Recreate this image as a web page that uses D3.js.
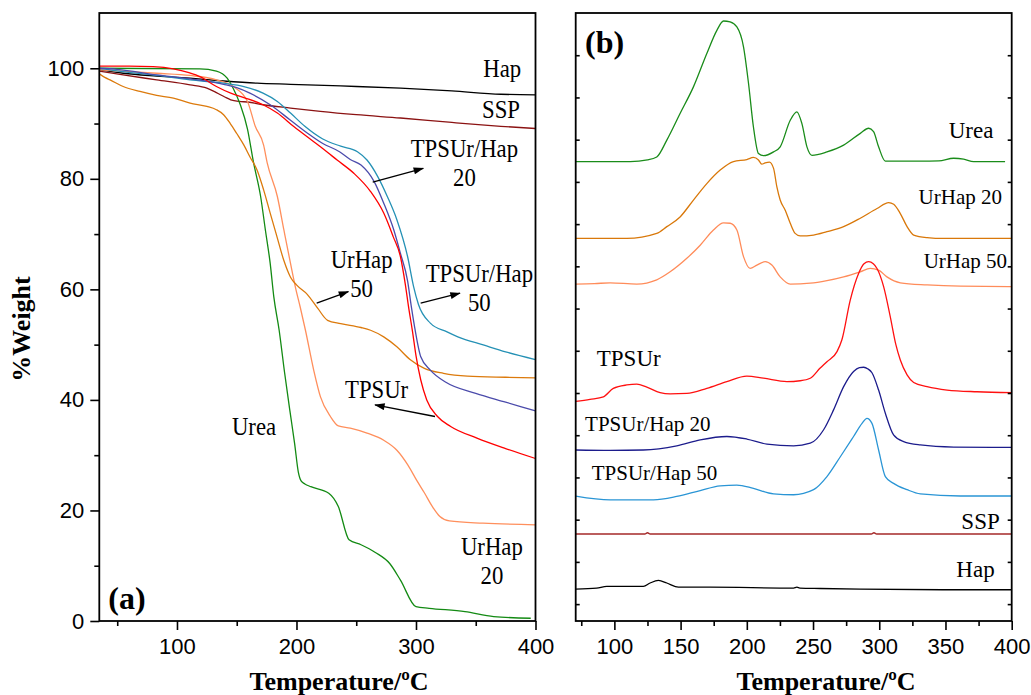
<!DOCTYPE html>
<html>
<head>
<meta charset="utf-8">
<script src="https://cdn.jsdelivr.net/npm/d3@7"></script>
<style>
  body { margin: 0; background: #fff; }
  svg { display: block; }
</style>
</head>
<body>
<svg id="fig" width="1031" height="695"></svg>
<script>
// ---------- (a) TGA: temperature (°C) vs. %weight ----------
const tgaHap = [[35,99.7],[55,99.1],[83,98.6],[111,98.2],[139,97.7],[167,97.3],[195,97.1],[237,96.8],[287,96.4],[330,95.9],[371,95.3],[400,95.2]];
const tgaSSP = [[35,99.5],[55,98.8],[83,97.9],[111,97.0],[125,96.4],[133,95.6],[140,94.8],[145,94.3],[152,94.0],[159,93.9],[172,93.4],[195,92.8],[220,92.2],[250,91.6],[287,91.0],[330,90.2],[371,89.5],[400,89.1]];
const tgaTPSUrHap20 = [[35,100.0],[50,99.8],[83,98.8],[111,98.1],[139,97.1],[150,96.5],[161,95.5],[178,93.4],[195,90.6],[209,88.3],[222,86.4],[236,84.9],[245,83.5],[254,82.5],[265,79.5],[273,75.6],[281.5,70.7],[287,66.5],[293,61.5],[296,57],[299,53],[304,47.8],[312,45.4],[325,43.2],[350,41.2],[375,39.6],[400,38.0]];
const tgaTPSUrHap50 = [[35,100.0],[55,99.4],[83,98.7],[111,97.9],[139,97.3],[156,96.7],[172,95.5],[184,94.0],[195,91.9],[207,89.5],[222,87.2],[237,85.9],[251,84.9],[259,83.4],[268,80.4],[276,76.8],[284,72.6],[293,65.9],[298,60.5],[302,57.3],[312,53.9],[326,52.3],[335,51.4],[357,49.9],[375,48.7],[400,47.3]];
const tgaTPSUr = [[35,100.4],[60,100.4],[80,100.3],[97,99.9],[110,99.2],[120,98.4],[133,96.7],[145,95.5],[156,94.7],[172,93.4],[184,91.9],[198,89.4],[212,87.1],[223,85.3],[234,83.4],[248,81.0],[262,77.7],[273,73.8],[281,69.5],[287,65.9],[291,61.0],[294,56.5],[297,52.5],[300,48],[304,43.6],[309,40.0],[318,37.0],[329,35.2],[351,33.1],[375,31.2],[400,29.4]];
const tgaUrHap50 = [[35,99.0],[40,98.3],[44,97.9],[55,96.7],[69,95.8],[83,95.1],[97,94.6],[111,93.7],[125,93.1],[133,92.5],[139,91.6],[144.6,90.0],[150,88.2],[156,86.1],[161,84.0],[167,81.6],[172.5,78.0],[178,73.8],[183.7,69.5],[189.3,65.3],[195,62.2],[200,60.8],[209,59.1],[218,56.5],[226,54.4],[237,53.8],[254,53.1],[262,52.6],[273,51.4],[284,49.6],[295,47.3],[307,45.7],[323,44.8],[343,44.3],[375,44.1],[400,44.0]];
const tgaUrHap20 = [[35,99.7],[83,99.1],[111,98.7],[133,97.9],[147,96.7],[159,94.0],[165.5,89.5],[172.5,86.1],[175.5,82.9],[184,76.8],[189.5,70.7],[195,64.7],[199.5,60],[203,56.9],[207.5,52.6],[214.4,45.4],[220,40.6],[228.4,37.0],[235,35.3],[245,34.9],[259,34.0],[273,32.7],[284,30.9],[293,28.3],[301,25.3],[307,23.2],[314,20.6],[320,18.9],[328,18.1],[356,17.7],[400,17.4]];
const tgaUrea = [[35,100.0],[119,99.9],[133,99.5],[142,98.2],[147,96.4],[153,93.4],[159,89.0],[164,83.0],[170,76.8],[174,70.7],[178,64.7],[181,58.7],[185.5,52.6],[190,45],[194.5,38],[198.5,32],[201.5,27],[204,25.3],[207,24.8],[212,24.3],[227,23.1],[235,20.7],[244,14.7],[254,13.8],[266,12.4],[278,10.4],[287,7.4],[300,2.6],[311,2.3],[341,1.7],[365,0.8],[396,0.5]];

// ---------- (b) DTG: temperature (°C) vs. offset derivative (arb. units) ----------
const dtgUrea = [[70.8,10.48],[112,10.48],[125,10.52],[132,10.59],[139.6,10.99],[149.6,11.62],[159.7,12.25],[169.8,13.04],[177.4,13.59],[182.4,13.81],[187.4,13.79],[192.5,13.67],[197.5,13.2],[201.3,12.33],[205,11.3],[208.8,10.67],[212.6,10.62],[220.2,10.71],[225.2,10.83],[232.8,11.46],[237.8,11.66],[241.6,11.38],[245.4,10.83],[249.2,10.63],[260.5,10.71],[273.1,10.87],[285.7,11.15],[292,11.27],[295.7,11.19],[299.5,10.83],[304.6,10.49],[331,10.49],[345,10.50],[356.2,10.56],[363.7,10.54],[371.3,10.48],[395,10.48]];
const dtgUrHap20 = [[70.8,8.66],[109.4,8.66],[132,8.78],[139.6,8.94],[149.6,9.17],[159.7,9.57],[169.8,9.96],[179.9,10.28],[189.9,10.48],[200,10.53],[205,10.58],[208.8,10.52],[211.3,10.42],[213.8,10.45],[217.1,10.47],[220.2,10.32],[222.7,9.88],[225.2,9.57],[229,9.33],[232.8,9.02],[236.5,8.78],[240.3,8.72],[250.4,8.74],[260.5,8.82],[273.1,8.94],[285.7,9.14],[298.3,9.37],[307.1,9.51],[310.9,9.47],[315.9,9.25],[321,8.94],[326,8.74],[336.1,8.68],[348.7,8.66],[400,8.66]];
const dtgUrHap50 = [[70.8,7.58],[85,7.59],[96.8,7.61],[116.9,7.58],[132,7.68],[142.1,7.87],[154.7,8.19],[164.8,8.50],[174.8,8.86],[182.4,9.03],[187.4,9.02],[192.5,8.86],[197.5,8.23],[202.5,7.95],[207.6,8.03],[213.9,8.11],[218.9,8.03],[225.2,7.75],[232.8,7.58],[247.9,7.60],[260.5,7.66],[273.1,7.75],[285.7,7.87],[293.2,7.95],[299.5,7.91],[305.8,7.75],[315.9,7.61],[336.1,7.56],[361.3,7.53],[400,7.52]];
const dtgTPSUr = [[70.8,4.80],[81.6,4.85],[91.7,4.91],[99.2,5.11],[109.4,5.19],[116.9,5.21],[124.5,5.14],[134.5,5.01],[142.1,4.98],[154.7,4.99],[169.8,5.11],[184.9,5.27],[200,5.40],[212.6,5.35],[230.3,5.27],[240.3,5.29],[247.9,5.35],[255.4,5.59],[260.5,5.74],[268.1,5.98],[271.8,6.26],[278.1,7.20],[284.4,7.83],[288.5,8.06],[292,8.11],[295.5,8.06],[298.3,7.95],[303.3,7.52],[308.3,6.81],[312.5,6.15],[315.9,5.78],[321,5.43],[326,5.25],[336.1,5.15],[351.2,5.07],[373.9,5.03],[400,5.01]];
const dtgTPSUrHap20 = [[70.8,3.65],[96.8,3.64],[121.9,3.65],[147.1,3.75],[164.8,3.89],[184.9,3.97],[200,3.91],[215.2,3.79],[235.3,3.75],[247.9,3.81],[258,4.13],[265.5,4.60],[273.1,5.15],[280.6,5.51],[285,5.60],[288.2,5.61],[291.5,5.57],[294.5,5.48],[299.5,5.07],[304.6,4.52],[310.8,4.01],[318.4,3.85],[331,3.77],[356.2,3.72],[400,3.71]];
const dtgTPSUrHap50 = [[70.8,2.56],[96.8,2.47],[129.5,2.47],[147.1,2.55],[164.8,2.69],[179.9,2.80],[192.5,2.82],[205,2.74],[220.2,2.61],[235.3,2.59],[250.4,2.71],[260.5,3.02],[270.6,3.49],[280.6,3.97],[287,4.28],[290.7,4.40],[294.5,4.28],[299.5,3.65],[304.6,3.02],[310.8,2.86],[321,2.71],[331,2.61],[361.2,2.56],[400,2.56]];
const dtgSSP = [[70.8,1.66],[123,1.66],[125,1.69],[127,1.66],[294,1.66],[296,1.69],[298,1.66],[400,1.66]];
const dtgHap = [[70.8,0.355],[86.6,0.38],[94.3,0.42],[121.9,0.42],[127,0.50],[133.3,0.56],[139.6,0.50],[148.4,0.40],[172.3,0.40],[235.3,0.38],[237.8,0.40],[240,0.38],[255.4,0.37],[285.7,0.355],[348.7,0.34],[400,0.34]];

// ---------- ticks ----------
const xMajorA = [100, 200, 300, 400];
const xMinorA = [50, 150, 250, 350];
const yMajorA = [0, 20, 40, 60, 80, 100];
const yMinorA = [10, 30, 50, 70, 90];
const xMajorB = [100, 150, 200, 250, 300, 350, 400];
const xMinorB = [75, 125, 175, 225, 275, 325, 375];
const yTicksB = d3.range(0, 14);

// ---------- curve labels and arrows ----------
const labelsA = [
  { lines: ["Hap"], t: 388, v: 98.5, anchor: "end" },
  { lines: ["SSP"], t: 387, v: 91.0, anchor: "end" },
  { lines: ["TPSUr/Hap", "20"], t: 340.5, v: 84.0, anchor: "middle" },
  { lines: ["UrHap", "50"], t: 254.5, v: 63.8, anchor: "middle" },
  { lines: ["TPSUr/Hap", "50"], t: 353, v: 61.4, anchor: "middle" },
  { lines: ["TPSUr"], t: 240.6, v: 40.3, anchor: "start" },
  { lines: ["Urea"], t: 146, v: 33.6, anchor: "start" },
  { lines: ["UrHap", "20"], t: 363.5, v: 11.9, anchor: "middle" }
];
const arrowsA = [
  { from: [263.8, 79.4], to: [306.1, 81.9] },
  { from: [216.9, 57.5], to: [243.4, 59.6] },
  { from: [303.9, 57.5], to: [336.8, 59.3] },
  { from: [315.9, 37.0], to: [265.7, 39.1] }
];
const labelsB = [
  { text: "Urea", t: 352.4, v: 11.03, size: 23 },
  { text: "UrHap 20", t: 329.7, v: 9.47, size: 21 },
  { text: "UrHap 50", t: 333.5, v: 7.95, size: 21 },
  { text: "TPSUr", t: 86.7, v: 5.64, size: 23 },
  { text: "TPSUr/Hap 20", t: 77.9, v: 4.09, size: 21 },
  { text: "TPSUr/Hap 50", t: 82.9, v: 2.94, size: 21 },
  { text: "SSP", t: 362, v: 1.78, size: 23 },
  { text: "Hap", t: 358.2, v: 0.65, size: 23 }
];

const seriesA = [
  { data: tgaHap, color: "#000000" },
  { data: tgaSSP, color: "#8b1212" },
  { data: tgaUrea, color: "#138a13" },
  { data: tgaUrHap20, color: "#ff8f5c" },
  { data: tgaUrHap50, color: "#dc7a0c" },
  { data: tgaTPSUrHap50, color: "#2591b5" },
  { data: tgaTPSUrHap20, color: "#4b4bab" },
  { data: tgaTPSUr, color: "#ff0000" }
];
const seriesB = [
  { data: dtgUrea, color: "#1a8c1a" },
  { data: dtgUrHap20, color: "#d9780a" },
  { data: dtgUrHap50, color: "#ff8c5a" },
  { data: dtgTPSUr, color: "#ff1010" },
  { data: dtgTPSUrHap20, color: "#1c1c8c" },
  { data: dtgTPSUrHap50, color: "#2a95d5" },
  { data: dtgSSP, color: "#a52a2a" },
  { data: dtgHap, color: "#000000" }
];

// ---------- layout ----------
const SERIF = '"Liberation Serif", "Times New Roman", Times, serif';
const SANS = '"Liberation Sans", Arial, Helvetica, sans-serif';
const TOP = 13, BOTTOM = 621;

const xA = d3.scaleLinear().domain([35, 400]).range([99.3, 535.5]);
const yA = d3.scaleLinear().domain([0, 110]).range([BOTTOM, TOP]);
const xB = d3.scaleLinear().domain([70.8, 400]).range([575.7, 1011.7]);
const yB = d3.scaleLinear().domain([-0.4, 14]).range([BOTTOM, TOP]);

const svg = d3.select("#fig");
const defs = svg.append("defs");
defs.append("marker")
  .attr("id", "head").attr("viewBox", "0 0 12 8")
  .attr("refX", 11).attr("refY", 4)
  .attr("markerWidth", 12).attr("markerHeight", 7)
  .attr("markerUnits", "userSpaceOnUse").attr("orient", "auto")
  .append("path").attr("d", "M0,0L12,4L0,8z").attr("fill", "#000");

function clip(id, x, y) {
  defs.append("clipPath").attr("id", id).append("rect")
    .attr("x", x.range()[0]).attr("y", TOP)
    .attr("width", x.range()[1] - x.range()[0]).attr("height", BOTTOM - TOP);
}
clip("clipA", xA, yA);
clip("clipB", xB, yB);

function drawLines(series, x, y, clipId) {
  const line = d3.line().x(d => x(d[0])).y(d => y(d[1])).curve(d3.curveMonotoneX);
  svg.append("g").attr("clip-path", `url(#${clipId})`)
    .selectAll("path").data(series).join("path")
    .attr("d", s => line(s.data))
    .attr("fill", "none").attr("stroke", s => s.color)
    .attr("stroke-width", 1.3).attr("stroke-linejoin", "round");
}

function styleAxis(g) {
  g.select(".domain").remove();
  g.selectAll(".tick line").attr("stroke", "#000").attr("stroke-width", 1.6);
  g.selectAll(".tick text").attr("font-family", SANS).attr("font-size", 22).attr("fill", "#000");
}

function bottomAxis(x, majors, minors) {
  svg.append("g").attr("transform", `translate(0,${BOTTOM})`)
    .call(d3.axisBottom(x).tickValues(majors).tickSize(9).tickPadding(8).tickFormat(d3.format("d")))
    .call(styleAxis);
  svg.append("g").attr("transform", `translate(0,${BOTTOM})`)
    .call(d3.axisBottom(x).tickValues(minors).tickSize(5).tickFormat(""))
    .call(styleAxis);
}

function frame(x) {
  const [x0, x1] = x.range();
  svg.append("rect").attr("x", x0).attr("y", TOP)
    .attr("width", x1 - x0).attr("height", BOTTOM - TOP)
    .attr("fill", "none").attr("stroke", "#000").attr("stroke-width", 1.8);
}

// ----- panel (a) -----
drawLines(seriesA, xA, yA, "clipA");
bottomAxis(xA, xMajorA, xMinorA);
svg.append("g").attr("transform", `translate(${xA.range()[0]},0)`)
  .call(d3.axisLeft(yA).tickValues(yMajorA).tickSize(9).tickPadding(6).tickFormat(d3.format("d")))
  .call(styleAxis);
svg.append("g").attr("transform", `translate(${xA.range()[0]},0)`)
  .call(d3.axisLeft(yA).tickValues(yMinorA).tickSize(5).tickFormat(""))
  .call(styleAxis);
frame(xA);

const gLabA = svg.append("g").attr("font-family", SERIF).attr("font-size", 25).attr("fill", "#000");
labelsA.forEach(l => {
  l.lines.forEach((txt, i) => {
    gLabA.append("text")
      .attr("transform", `translate(${xA(l.t)},${yA(l.v) + i * 29}) scale(0.91,1)`)
      .attr("text-anchor", l.anchor).text(txt);
  });
});
svg.append("g").selectAll("line").data(arrowsA).join("line")
  .attr("x1", d => xA(d.from[0])).attr("y1", d => yA(d.from[1]))
  .attr("x2", d => xA(d.to[0])).attr("y2", d => yA(d.to[1]))
  .attr("stroke", "#000").attr("stroke-width", 1.3).attr("marker-end", "url(#head)");

svg.append("text").attr("x", xA(42.5)).attr("y", 609)
  .attr("font-family", SERIF).attr("font-weight", "bold").attr("font-size", 32).text("(a)");

svg.append("text").attr("transform", "translate(30,329) rotate(-90)")
  .attr("text-anchor", "middle").attr("font-family", SERIF).attr("font-weight", "bold")
  .attr("font-size", 26).text("%Weight");
svg.append("text").attr("x", 339).attr("y", 690).attr("text-anchor", "middle")
  .attr("font-family", SERIF).attr("font-weight", "bold").attr("font-size", 26).text("Temperature/ºC");

// ----- panel (b) -----
drawLines(seriesB, xB, yB, "clipB");
bottomAxis(xB, xMajorB, xMinorB);
svg.append("g").attr("transform", `translate(${xB.range()[0]},0)`)
  .call(d3.axisLeft(yB).tickValues(yTicksB).tickSize(-4).tickFormat(""))
  .call(styleAxis);
svg.append("g").attr("transform", `translate(${xB.range()[1]},0)`)
  .call(d3.axisRight(yB).tickValues(yTicksB).tickSize(-4).tickFormat(""))
  .call(styleAxis);
frame(xB);

svg.append("g").attr("font-family", SERIF).attr("fill", "#000")
  .selectAll("text").data(labelsB).join("text")
  .attr("x", d => xB(d.t)).attr("y", d => yB(d.v))
  .attr("font-size", d => d.size).text(d => d.text);

svg.append("text").attr("x", xB(77.9)).attr("y", 53)
  .attr("font-family", SERIF).attr("font-weight", "bold").attr("font-size", 32).text("(b)");
svg.append("text").attr("x", 826).attr("y", 690).attr("text-anchor", "middle")
  .attr("font-family", SERIF).attr("font-weight", "bold").attr("font-size", 26).text("Temperature/ºC");
</script>
</body>
</html>
